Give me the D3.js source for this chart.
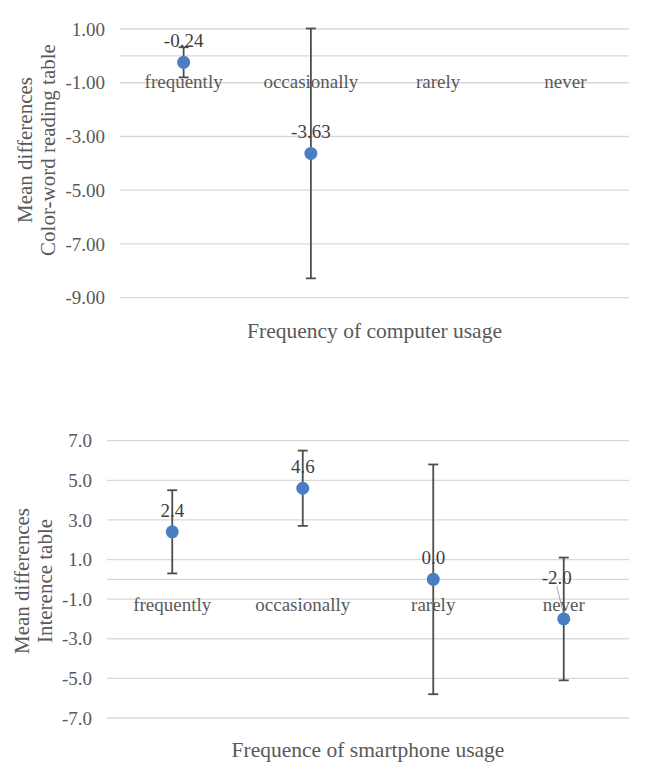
<!DOCTYPE html>
<html>
<head>
<meta charset="utf-8">
<script src="https://cdn.jsdelivr.net/npm/d3@7"></script>
<style>
  body { margin: 0; background: #fff; }
  text { font-family: "Liberation Serif", "Times New Roman", serif; fill: #595959; }
</style>
</head>
<body>
<script>
const width = 646, height = 777

// data
const categories = ['frequently', 'occasionally', 'rarely', 'never']
const computerMeans = [-0.24, -3.63, null, null]
const computerErrors = [0.56, 4.65, null, null]
const computerTicks = [1, -1, -3, -5, -7, -9]
const smartphoneMeans = [2.4, 4.6, 0.0, -2.0]
const smartphoneErrors = [2.1, 1.9, 5.8, 3.1]
const smartphoneTicks = [7, 5, 3, 1, -1, -3, -5, -7]

const dotColor = '#4a7ec2'
const barColor = '#4d4d4d'
const gridColor = '#d9d9d9'

// plain hyphen for negatives, like the original
const locale = d3.formatLocale({ decimal: '.', thousands: ',', grouping: [3], currency: ['', ''], minus: '-' })

let svg = d3.select('body').append('svg')
  .attr('width', width)
  .attr('height', height)

let drawChart = (opt) => {
  let g = svg.append('g')

  let x = d3.scaleBand().domain(categories).range([opt.left, opt.right])
  let y = d3.scaleLinear().domain([d3.min(opt.ticks), d3.max(opt.ticks)]).range([opt.bottom, opt.top])
  let cxOf = d => x(d.cat) + x.bandwidth() / 2

  // gridlines + zero line
  g.selectAll('.grid').data(opt.ticks.concat([0]))
    .enter().append('line')
    .attr('x1', opt.left).attr('x2', opt.right)
    .attr('y1', d => y(d)).attr('y2', d => y(d))
    .style('stroke', gridColor)
    .style('stroke-width', 1.3)

  // tick labels
  g.selectAll('.tick').data(opt.ticks)
    .enter().append('text')
    .attr('x', opt.left - 15)
    .attr('y', d => y(d))
    .attr('dy', '0.35em')
    .attr('text-anchor', 'end')
    .style('font-size', '19px')
    .text(d => locale.format(opt.tickFmt)(d))

  // category labels below the zero line
  g.selectAll('.cat').data(categories)
    .enter().append('text')
    .attr('x', d => x(d) + x.bandwidth() / 2)
    .attr('y', y(0) + 32)
    .attr('text-anchor', 'middle')
    .style('font-size', '19px')
    .text(d => d)

  let pts = categories.map((c, i) => ({ cat: c, v: opt.means[i], e: opt.errors[i], i: i }))
    .filter(d => d.v !== null)

  // error bars
  let bars = g.selectAll('.err').data(pts).enter().append('g')
  bars.append('line')
    .attr('x1', cxOf).attr('x2', cxOf)
    .attr('y1', d => y(d.v + d.e)).attr('y2', d => y(d.v - d.e))
  bars.append('line')
    .attr('x1', d => cxOf(d) - 5).attr('x2', d => cxOf(d) + 5)
    .attr('y1', d => y(d.v + d.e)).attr('y2', d => y(d.v + d.e))
  bars.append('line')
    .attr('x1', d => cxOf(d) - 5).attr('x2', d => cxOf(d) + 5)
    .attr('y1', d => y(d.v - d.e)).attr('y2', d => y(d.v - d.e))
  bars.selectAll('line')
    .style('stroke', barColor)
    .style('stroke-width', 1.8)

  // data labels (one can be moved with a leader line)
  pts.forEach(d => {
    let cx = cxOf(d), cy = y(d.v)
    let off = opt.moved[d.i]
    if (off) {
      g.append('line')
        .attr('x1', cx + off[0]).attr('y1', cy + off[1] + 2)
        .attr('x2', cx).attr('y2', cy - 4)
        .style('stroke', '#a6a6a6')
        .style('stroke-width', 1)
    }
    g.append('text')
      .attr('x', cx + (off ? off[0] : 0))
      .attr('y', cy + (off ? off[1] : -15))
      .attr('text-anchor', 'middle')
      .style('font-size', '19px')
      .style('fill', '#404040')
      .text(locale.format(opt.valFmt)(d.v))
  })

  // points
  g.selectAll('.dot').data(pts)
    .enter().append('circle')
    .attr('cx', cxOf)
    .attr('cy', d => y(d.v))
    .attr('r', 6.5)
    .style('fill', dotColor)

  // y title (two lines)
  let yt = g.append('text')
    .attr('transform', `translate(${opt.yTitleX}, ${opt.yTitleY}) rotate(-90)`)
    .attr('text-anchor', 'middle')
    .style('font-size', '21px')
  opt.yTitle.forEach((t, i) => {
    yt.append('tspan').attr('x', 0).attr('dy', i === 0 ? 0 : 23).text(t)
  })

  // x title
  g.append('text')
    .attr('x', (opt.left + opt.right) / 2)
    .attr('y', opt.xTitleY)
    .attr('text-anchor', 'middle')
    .style('font-size', '21.5px')
    .text(opt.xTitle)
}

drawChart({
  means: computerMeans, errors: computerErrors, ticks: computerTicks,
  tickFmt: '.2f', valFmt: '.2f',
  left: 120, right: 629, top: 29, bottom: 297.7,
  moved: {},
  yTitle: ['Mean differences', 'Color-word reading table'],
  yTitleX: 32, yTitleY: 150,
  xTitle: 'Frequency of computer usage', xTitleY: 338
})

drawChart({
  means: smartphoneMeans, errors: smartphoneErrors, ticks: smartphoneTicks,
  tickFmt: '.1f', valFmt: '.1f',
  left: 107, right: 629, top: 440.7, bottom: 718,
  moved: { 3: [-7, -35] },
  yTitle: ['Mean differences', 'Interence table'],
  yTitleX: 28.5, yTitleY: 581,
  xTitle: 'Frequence of smartphone usage', xTitleY: 757
})
</script>
</body>
</html>
